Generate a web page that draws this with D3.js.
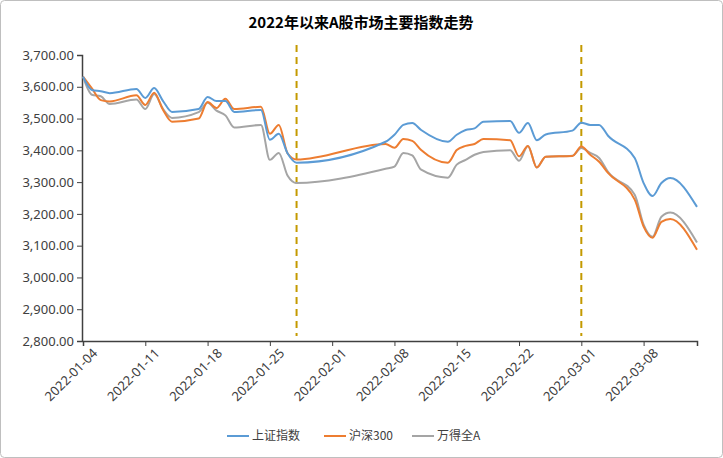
<!DOCTYPE html>
<html><head><meta charset="utf-8">
<script src="https://cdn.jsdelivr.net/npm/d3@7"></script>
<style>body{margin:0;background:#fff;font-family:"Noto Sans CJK SC","Noto Sans",sans-serif}</style>
</head><body><svg id="c" width="723" height="458"></svg>
<script>
var dates = ['2022-01-04','2022-01-05','2022-01-06','2022-01-07','2022-01-10','2022-01-11','2022-01-12','2022-01-13','2022-01-14','2022-01-17','2022-01-18','2022-01-19','2022-01-20','2022-01-21','2022-01-24','2022-01-25','2022-01-26','2022-01-27','2022-01-28',
  '2022-02-07','2022-02-08','2022-02-09','2022-02-10','2022-02-11','2022-02-14','2022-02-15','2022-02-16','2022-02-17','2022-02-18','2022-02-21','2022-02-22','2022-02-23','2022-02-24','2022-02-25','2022-02-28',
  '2022-03-01','2022-03-02','2022-03-03','2022-03-04','2022-03-07','2022-03-08','2022-03-09','2022-03-10','2022-03-11','2022-03-14'];
var sse = [3632,3590,3586,3580,3593,3565,3596,3555,3521,3530,3568,3555,3555,3521,3527,3433,3452,3390,3361,
  3427,3449,3480,3486,3464,3427,3449,3464,3469,3490,3492,3455,3486,3432,3450,3462,
  3487,3480,3480,3446,3376,3297,3256,3297,3313,3222];
var csi300 = [3632,3595,3558,3554,3573,3543,3581,3527,3490,3500,3552,3533,3562,3530,3537,3452,3480,3390,3371,
  3420,3408,3436,3430,3401,3361,3401,3414,3420,3436,3432,3381,3414,3346,3380,3382,
  3412,3386,3364,3329,3245,3160,3125,3175,3184,3087];
var windA = [3632,3575,3570,3546,3560,3530,3577,3530,3502,3520,3550,3525,3510,3472,3480,3370,3392,3320,3297,
  3342,3349,3392,3384,3339,3314,3355,3370,3386,3395,3400,3367,3414,3346,3380,3383,
  3407,3392,3376,3332,3260,3166,3128,3191,3204,3110];
var seriesNames = ['上证指数','沪深300','万得全A'];
var colors = ['#5B9BD5','#ED7D31','#A5A5A5'];
var markDates = ['2022-01-28','2022-03-01'];
var yTicks = [2800,2900,3000,3100,3200,3300,3400,3500,3600,3700];

var svg = d3.select('#c');
var parse = d3.timeParse('%Y-%m-%d');
var fmt = d3.timeFormat('%Y-%m-%d');
var m = {l:82, r:697, t:55, b:341};

svg.append('rect').attr('x',0.5).attr('y',0.5).attr('width',722).attr('height',457)
  .attr('rx',4).attr('fill','#fff').attr('stroke','#bfbfbf');

svg.append('text').attr('x',361).attr('y',28).attr('text-anchor','middle')
  .attr('font-size',15).attr('font-weight','bold').attr('fill','#000')
  .text('2022年以来A股市场主要指数走势');

var x = d3.scaleTime().domain([parse(dates[0]), parse(dates[dates.length-1])]).range([m.l+1, m.r]);
var y = d3.scaleLinear().domain([2800,3700]).range([m.b, m.t]);

var yAxis = svg.append('g').attr('transform','translate('+m.l+',0)')
  .call(d3.axisLeft(y).tickValues(yTicks).tickSize(5).tickFormat(d3.format(',.2f')));
yAxis.select('.domain').attr('stroke','#404040').attr('stroke-width',1.5);
yAxis.selectAll('.tick line').attr('stroke','#404040');
yAxis.selectAll('text').attr('font-size',13).attr('fill','#404040').attr('font-family','"Noto Sans","DejaVu Sans",sans-serif');

var xTicks = d3.timeDay.range(parse('2022-01-04'), parse('2022-03-15'), 7);
var xAxis = svg.append('g').attr('transform','translate(0,'+m.b+')')
  .call(d3.axisBottom(x).tickValues(xTicks).tickSize(5).tickFormat(fmt));
xAxis.select('.domain').attr('stroke','#404040').attr('stroke-width',1.5);
xAxis.selectAll('.tick line').attr('stroke','#404040');
xAxis.selectAll('text').attr('font-size',13).attr('fill','#404040')
  .attr('font-family','"Noto Sans","DejaVu Sans",sans-serif')
  .attr('text-anchor','end').attr('dx','0.1em').attr('dy','0.9em')
  .attr('transform','rotate(-45)');

svg.selectAll('.mark').data(markDates).enter().append('line')
  .attr('x1',function(d){return x(parse(d));}).attr('x2',function(d){return x(parse(d));})
  .attr('y1',45).attr('y2',336)
  .attr('stroke','#C49A00').attr('stroke-width',2).attr('stroke-dasharray','7,5');

var line = d3.line().curve(d3.curveMonotoneX)
  .x(function(d,i){return x(parse(dates[i]));}).y(function(d){return y(d);});

var all = [sse, csi300, windA];
[2,1,0].forEach(function(k){
  svg.append('path').datum(all[k]).attr('d',line).attr('fill','none')
    .attr('stroke',colors[k]).attr('stroke-width',2);
});

var lg = svg.append('g').attr('transform','translate(227,436)');
var offs = [0,97,185];
seriesNames.forEach(function(n,i){
  var g = lg.append('g').attr('transform','translate('+offs[i]+',0)');
  g.append('line').attr('x1',0).attr('x2',22).attr('stroke',colors[i]).attr('stroke-width',2);
  g.append('text').attr('x',25).attr('y',4).attr('font-size',12).attr('fill','#404040').text(n);
});
</script></body></html>
